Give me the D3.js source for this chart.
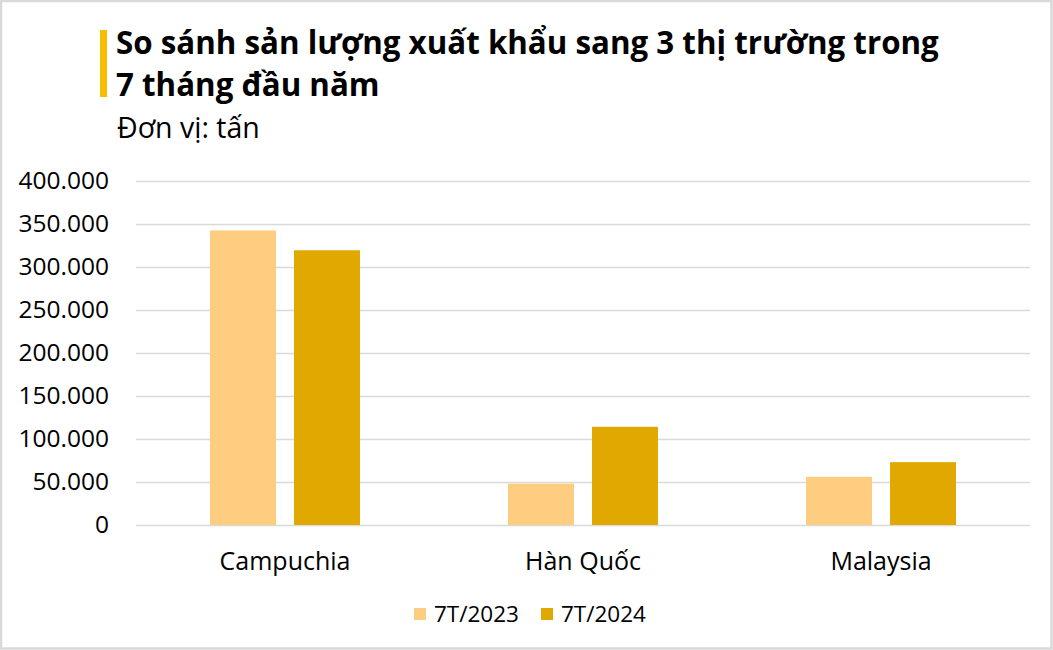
<!DOCTYPE html>
<html><head><meta charset="utf-8">
<script src="https://cdn.jsdelivr.net/npm/d3@7"></script>
<style>html,body{margin:0;padding:0;background:#fff;} svg{display:block;}</style>
</head><body>
<svg id="chart" width="1053" height="650"></svg>
<script>
const categories = ["Campuchia", "Hàn Quốc", "Malaysia"];
const seriesNames = ["7T/2023", "7T/2024"];
const values2023 = [342000, 48000, 56000];
const values2024 = [319000, 114000, 73000];
const yTicks = [0, 50000, 100000, 150000, 200000, 250000, 300000, 350000, 400000];
const colors = ["#FFCD7F", "#E0A800"];

const svg = d3.select("#chart");
const W = 1053, H = 650;
const font = "'Open Sans', 'Noto Sans', sans-serif";

svg.append("rect").attr("x",1).attr("y",1).attr("width",W-2.5).attr("height",H-2.5)
  .attr("fill","#fff").attr("stroke","#d9d9d9").attr("stroke-width",2.5);

// title
svg.append("rect").attr("x",100).attr("y",30).attr("width",7).attr("height",67).attr("fill","#F5BE00");
const title = svg.append("text").attr("font-family",font).attr("font-weight","bold").attr("font-size",31.3).attr("fill","#000");
title.append("tspan").attr("x",116).attr("y",54).text("So sánh sản lượng xuất khẩu sang 3 thị trường trong");
title.append("tspan").attr("x",116).attr("y",96).text("7 tháng đầu năm");
svg.append("text").attr("x",117).attr("y",138).attr("font-family",font).attr("font-size",28.5).attr("fill","#000").text("Đơn vị: tấn");

const margin = {left:136, right:1030, top:180.5, bottom:525};
const x = d3.scaleBand().domain(categories).range([margin.left, margin.right]).paddingInner(0).paddingOuter(0);
const y = d3.scaleLinear().domain([0,400000]).range([margin.bottom, margin.top]);

const fmt = v => d3.format(",")(v).replace(/,/g, ".");

const grid = svg.append("g");
grid.selectAll("line").data(yTicks).join("line")
  .attr("x1",margin.left).attr("x2",margin.right)
  .attr("y1",d=>Math.round(y(d))+0.5).attr("y2",d=>Math.round(y(d))+0.5)
  .attr("stroke","#d9d9d9").attr("stroke-width",1.3);

const yAxis = d3.axisLeft(y).tickValues(yTicks).tickFormat(fmt).tickSize(0).tickPadding(27);
const ya = svg.append("g").attr("transform",`translate(${margin.left},0)`).call(yAxis);
ya.select(".domain").remove();
ya.selectAll("text").attr("font-family",font).attr("font-size",24.5).attr("fill","#000");

const xAxis = d3.axisBottom(x).tickSize(0).tickPadding(27);
const xa = svg.append("g").attr("transform",`translate(0,${margin.bottom})`).call(xAxis);
xa.select(".domain").remove();
xa.selectAll("text").attr("font-family",font).attr("font-size",25).attr("fill","#000");

const barW = 66, gap = 18;
const sub = d3.scaleBand().domain(seriesNames).range([0, barW*2+gap]).paddingInner(gap/(barW+gap));
const data = categories.map((c,i)=>({cat:c, vals:[values2023[i], values2024[i]]}));
const groups = svg.append("g").selectAll("g").data(data).join("g")
  .attr("transform",d=>`translate(${x(d.cat)+x.bandwidth()/2-(barW*2+gap)/2},0)`);
groups.selectAll("rect").data(d=>d.vals.map((v,j)=>({v, s:seriesNames[j], j}))).join("rect")
  .attr("x",d=>sub(d.s)).attr("width",sub.bandwidth())
  .attr("y",d=>y(d.v)).attr("height",d=>y(0)-y(d.v))
  .attr("fill",d=>colors[d.j]);

// legend
const legend = svg.append("g").attr("font-family",font).attr("font-size",22.5);
const lx = [414, 541];
seriesNames.forEach((s,i)=>{
  legend.append("rect").attr("x",lx[i]).attr("y",608).attr("width",12).attr("height",12).attr("fill",colors[i]);
  legend.append("text").attr("x",lx[i]+20).attr("y",622).attr("fill","#000").text(s);
});
</script>
</body></html>
